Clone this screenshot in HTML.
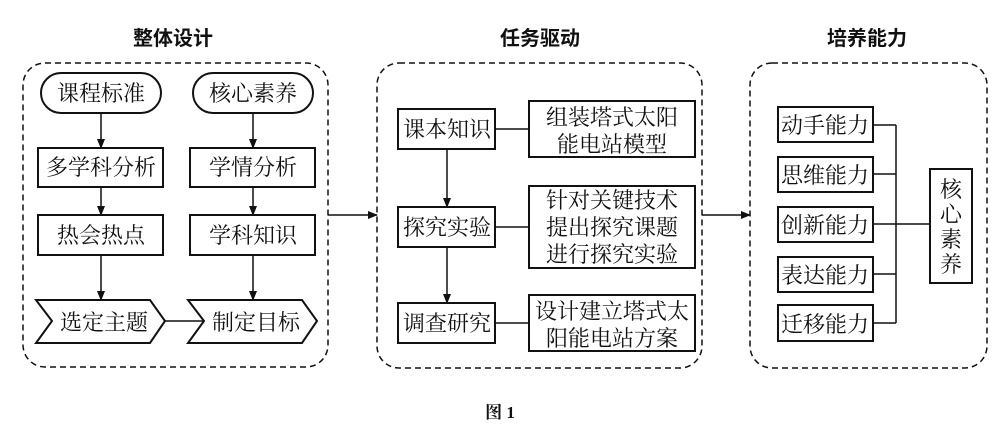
<!DOCTYPE html>
<html><head><meta charset="utf-8"><style>
body{margin:0;background:#fff}
svg text{font-family:"Liberation Serif","Noto Serif CJK SC",serif;fill:#111}
</style></head><body>
<svg width="1000" height="434" viewBox="0 0 1000 434" xmlns="http://www.w3.org/2000/svg">
<defs><marker id="a" markerWidth="10" markerHeight="10" refX="9" refY="5" orient="auto" markerUnits="userSpaceOnUse"><path d="M0,1 L10,5 L0,9 Z" fill="#111"/></marker></defs>
<g fill="none" stroke="#111" stroke-width="1.5" stroke-dasharray="6,4">
<rect x="23" y="63" width="305" height="304" rx="22"/>
<rect x="377" y="63" width="325" height="305" rx="22"/>
<rect x="750" y="63" width="237" height="305" rx="22"/>
</g>
<g font-size="20" font-weight="bold" text-anchor="middle">
<text x="173" y="45" style="font-family:'Noto Sans CJK SC',sans-serif">整体设计</text>
<text x="540" y="45" style="font-family:'Noto Sans CJK SC',sans-serif">任务驱动</text>
<text x="867" y="45" style="font-family:'Noto Sans CJK SC',sans-serif">培养能力</text>
<text x="500" y="418" font-size="17">图 1</text>
</g>
<g fill="#fff" stroke="#111" stroke-width="2">
<rect x="41" y="73" width="120" height="40" rx="20"/>
<rect x="193" y="73" width="120" height="40" rx="20"/>
<rect x="38" y="148" width="125" height="39"/>
<rect x="190" y="148" width="125" height="39"/>
<rect x="38" y="215" width="125" height="40"/>
<rect x="190" y="215" width="125" height="40"/>
<path d="M36,300 L150,300 L165,321 L150,343 L36,343 L52,321 Z"/>
<path d="M188,300 L302,300 L317,321 L302,343 L188,343 L204,321 Z"/>
<rect x="398" y="109" width="97" height="40"/>
<rect x="529" y="101" width="166" height="56"/>
<rect x="398" y="207" width="97" height="40"/>
<rect x="529" y="186" width="166" height="82"/>
<rect x="398" y="303" width="97" height="40"/>
<rect x="529" y="295" width="166" height="56"/>
<rect x="778" y="107" width="95" height="35"/>
<rect x="778" y="157" width="95" height="35"/>
<rect x="778" y="207" width="95" height="35"/>
<rect x="778" y="257" width="95" height="35"/>
<rect x="778" y="305" width="95" height="36"/>
<rect x="930" y="169" width="42" height="114"/>
</g>
<g stroke="#111" stroke-width="1.5" fill="none">
<line x1="101" y1="113" x2="101" y2="148" marker-end="url(#a)"/>
<line x1="101" y1="187" x2="101" y2="215" marker-end="url(#a)"/>
<line x1="101" y1="255" x2="101" y2="300" marker-end="url(#a)"/>
<line x1="253" y1="113" x2="253" y2="148" marker-end="url(#a)"/>
<line x1="253" y1="187" x2="253" y2="215" marker-end="url(#a)"/>
<line x1="253" y1="255" x2="253" y2="300" marker-end="url(#a)"/>
<line x1="165" y1="321" x2="204" y2="321"/>
<line x1="328" y1="215" x2="377" y2="215" marker-end="url(#a)"/>
<line x1="702" y1="215" x2="750" y2="215" marker-end="url(#a)"/>
<line x1="447" y1="149" x2="447" y2="207" marker-end="url(#a)"/>
<line x1="447" y1="247" x2="447" y2="303" marker-end="url(#a)"/>
<line x1="495" y1="129" x2="529" y2="129"/>
<line x1="495" y1="227" x2="529" y2="227"/>
<line x1="495" y1="323" x2="529" y2="323"/>
<path d="M873,125 H896 M873,174 H896 M873,224 H930 M873,274 H896 M873,323 H896 M896,125 V323"/>
</g>
<g font-size="22" text-anchor="middle">
<text x="101" y="101">课程标准</text>
<text x="253" y="101">核心素养</text>
<text x="101" y="175">多学科分析</text>
<text x="253" y="175">学情分析</text>
<text x="101" y="243">热会热点</text>
<text x="253" y="243">学科知识</text>
<text x="104" y="330">选定主题</text>
<text x="256" y="330">制定目标</text>
<text x="447" y="137">课本知识</text>
<text x="447" y="235">探究实验</text>
<text x="447" y="331">调查研究</text>
<text x="612" y="125">组装塔式太阳</text>
<text x="612" y="152">能电站模型</text>
<text x="612" y="208">针对关键技术</text>
<text x="612" y="235">提出探究课题</text>
<text x="612" y="262">进行探究实验</text>
<text x="612" y="319">设计建立塔式太</text>
<text x="612" y="346">阳能电站方案</text>
<text x="825" y="133">动手能力</text>
<text x="825" y="183">思维能力</text>
<text x="825" y="233">创新能力</text>
<text x="825" y="283">表达能力</text>
<text x="825" y="332">迁移能力</text>
<text x="951" y="197">核</text>
<text x="951" y="222">心</text>
<text x="951" y="247">素</text>
<text x="951" y="272">养</text>
</g>
</svg>
</body></html>
